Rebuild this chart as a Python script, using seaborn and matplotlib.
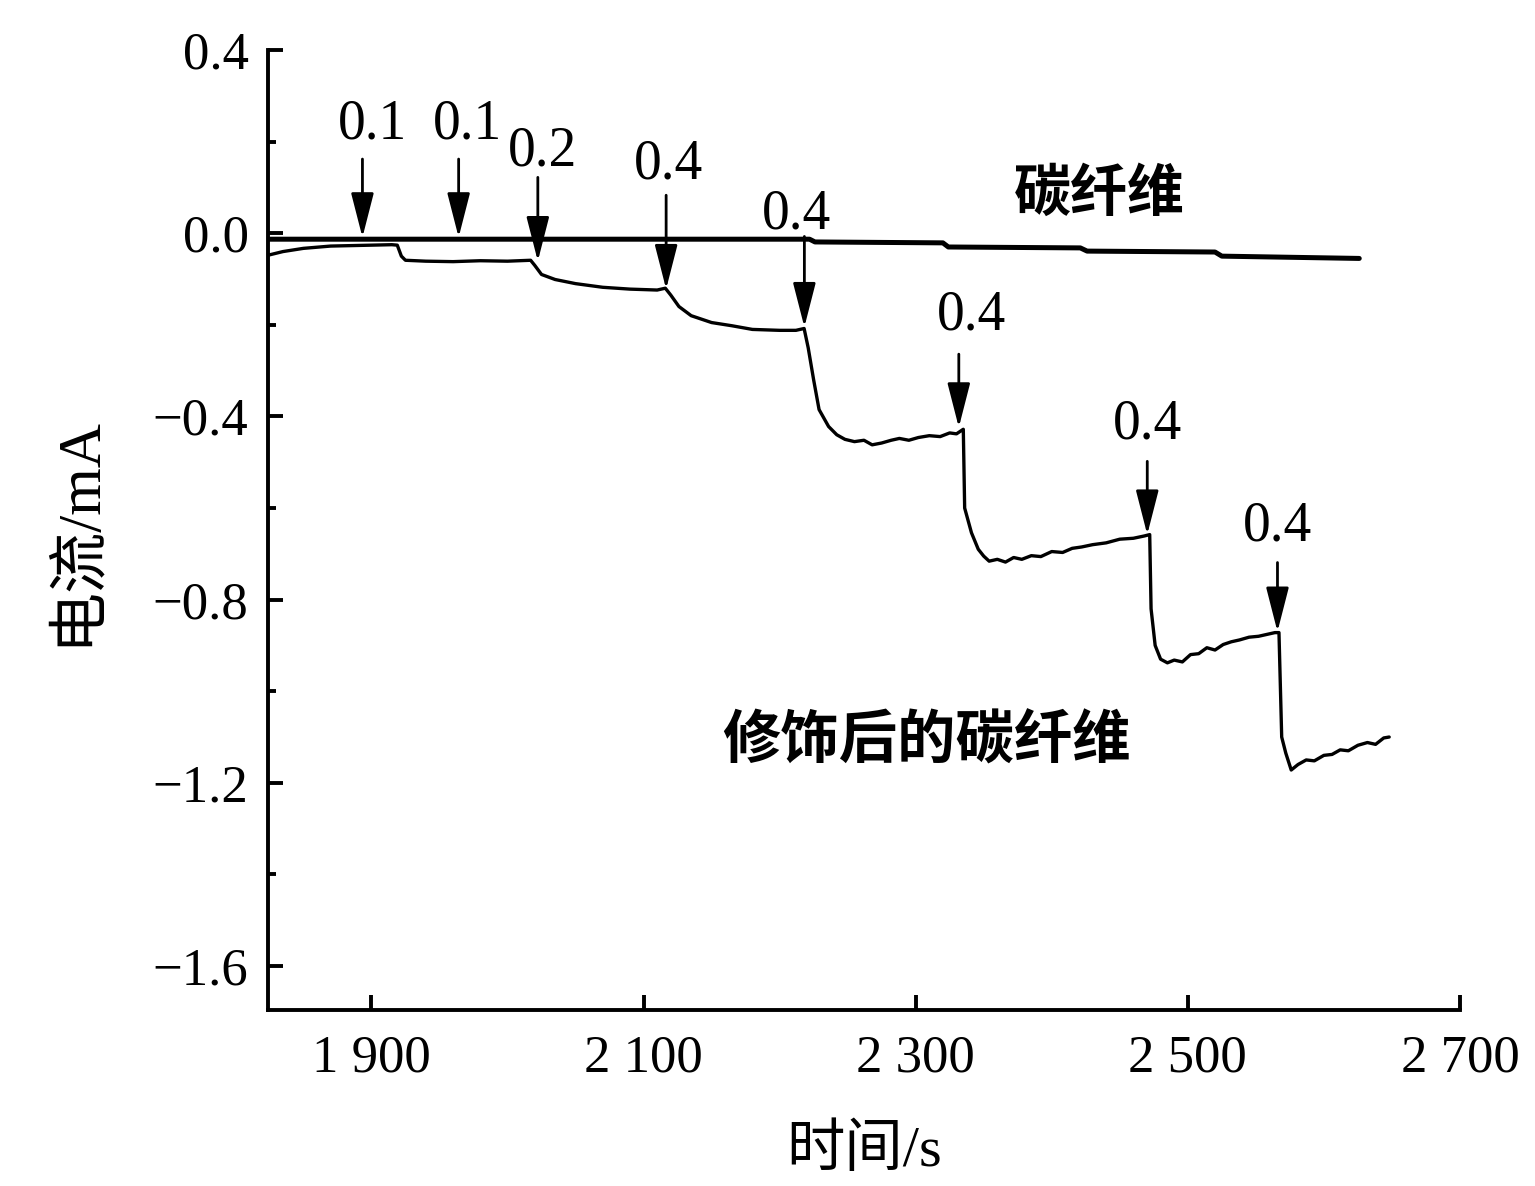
import pandas as pd
import matplotlib.pyplot as plt
import seaborn as sns
from matplotlib.ticker import MultipleLocator

# carbon fiber (bare) trace
cf_time = [1824, 2222, 2226, 2320, 2324, 2421, 2426, 2520, 2525, 2626]
cf_current = [-0.013, -0.013, -0.019, -0.021, -0.030, -0.032, -0.039, -0.041, -0.050, -0.055]

# modified carbon fiber trace
mod_time = [1824, 1835, 1850, 1870, 1885, 1900, 1915, 1919, 1922, 1925, 1940, 1960, 1980, 2000,
            2017, 2020, 2025, 2035, 2050, 2070, 2090, 2110, 2116, 2120, 2126, 2135, 2150, 2165,
            2180, 2200, 2212, 2218, 2221, 2225, 2229, 2236, 2242, 2248, 2255, 2262, 2268, 2275,
            2282, 2288, 2295, 2302, 2310, 2318, 2325, 2330, 2335, 2336, 2341, 2346, 2350, 2354,
            2360, 2366, 2372, 2378, 2385, 2392, 2400, 2408, 2415, 2422, 2430, 2440, 2450, 2460,
            2468, 2472, 2473, 2476, 2480, 2485, 2490, 2496, 2502, 2508, 2514, 2520, 2526, 2532,
            2538, 2545, 2552, 2558, 2564, 2567, 2569, 2572, 2576, 2581, 2587, 2593, 2600, 2606,
            2612, 2618, 2625, 2632, 2638, 2644, 2648]
mod_current = [-0.048, -0.040, -0.033, -0.028, -0.027, -0.026, -0.025, -0.026, -0.050, -0.059,
               -0.061, -0.062, -0.060, -0.061, -0.059, -0.070, -0.090, -0.101, -0.110, -0.118,
               -0.122, -0.124, -0.120, -0.135, -0.160, -0.180, -0.195, -0.202, -0.210, -0.212,
               -0.212, -0.208, -0.250, -0.320, -0.385, -0.422, -0.440, -0.450, -0.455, -0.452,
               -0.462, -0.458, -0.452, -0.448, -0.452, -0.446, -0.442, -0.444, -0.436, -0.438,
               -0.428, -0.600, -0.654, -0.690, -0.705, -0.716, -0.712, -0.718, -0.708, -0.712,
               -0.704, -0.706, -0.695, -0.697, -0.688, -0.685, -0.680, -0.676, -0.668, -0.666,
               -0.661, -0.658, -0.820, -0.900, -0.930, -0.938, -0.932, -0.936, -0.920, -0.918,
               -0.905, -0.910, -0.898, -0.892, -0.888, -0.882, -0.880, -0.876, -0.872, -0.872,
               -1.100, -1.135, -1.172, -1.160, -1.150, -1.152, -1.140, -1.138, -1.128, -1.130,
               -1.118, -1.112, -1.116, -1.102, -1.100]

# injection arrows
arrow_labels = ["0.1", "0.1", "0.2", "0.4", "0.4", "0.4", "0.4", "0.4"]
arrow_x = [1893.4, 1964.1, 2022.3, 2116.6, 2218.2, 2331.7, 2470.2, 2565.9]
arrow_top = [0.162, 0.162, 0.122, 0.083, -0.007, -0.264, -0.498, -0.719]
arrow_tip = [-0.009, -0.009, -0.061, -0.122, -0.205, -0.424, -0.658, -0.870]
label_x = [1900.7, 1970.7, 2026.0, 2118.0, 2212.3, 2341.3, 2470.2, 2565.9]
label_y = [0.238, 0.238, 0.179, 0.151, 0.042, -0.179, -0.417, -0.640]

x_ticks = [1900, 2100, 2300, 2500, 2700]
x_ticklabels = ["1 900", "2 100", "2 300", "2 500", "2 700"]
y_ticks = [0.4, 0.0, -0.4, -0.8, -1.2, -1.6]
y_ticklabels = ["0.4", "0.0", "\u22120.4", "\u22120.8", "\u22121.2", "\u22121.6"]

sns.set_style("ticks")
plt.rcParams['font.family'] = ['Liberation Serif', 'Noto Sans CJK SC']
plt.rcParams['text.color'] = 'black'
plt.rcParams['axes.labelcolor'] = 'black'
plt.rcParams['xtick.color'] = 'black'
plt.rcParams['ytick.color'] = 'black'
plt.rcParams['axes.edgecolor'] = 'black'

fig = plt.figure(figsize=(15.35, 11.86), dpi=100)
ax = fig.add_axes([0.1746, 0.1484, 0.7765, 0.8094])

cf = pd.DataFrame({"t": cf_time, "i": cf_current})
mod = pd.DataFrame({"t": mod_time, "i": mod_current})
sns.lineplot(data=cf, x="t", y="i", ax=ax, color="black", lw=3.6, sort=False)
sns.lineplot(data=mod, x="t", y="i", ax=ax, color="black", lw=2.4, sort=False)

for lab, x, yt, yh, lx, ly in zip(arrow_labels, arrow_x, arrow_top, arrow_tip, label_x, label_y):
    ax.annotate("", xy=(x, yh), xytext=(x, yt),
                arrowprops=dict(arrowstyle="-|>,head_length=1.25,head_width=0.32",
                                color="black", lw=2, mutation_scale=22, shrinkA=0, shrinkB=0))
    ax.text(lx, ly, lab, fontsize=40, ha="center", va="center")

ax.text(2434.8, 0.085, "碳纤维", fontsize=41, ha="center", va="center",
        family="Noto Sans CJK SC", fontweight="bold")
ax.text(2308.1, -1.110, "修饰后的碳纤维", fontsize=42, ha="center", va="center",
        family="Noto Sans CJK SC", fontweight="bold")

ax.set_xlim(1824, 2700)
ax.set_ylim(-1.696, 0.4)
ax.set_xticks(x_ticks)
ax.set_xticklabels(x_ticklabels)
ax.set_yticks(y_ticks)
ax.set_yticklabels(y_ticklabels)
ax.xaxis.set_minor_locator(MultipleLocator(200, offset=100))
ax.yaxis.set_minor_locator(MultipleLocator(0.4, offset=0.2))
ax.tick_params(which="major", direction="in", length=11, width=2.8, labelsize=38, pad=14)
ax.tick_params(which="minor", direction="in", length=6, width=2.8)
ax.tick_params(axis="x", which="major", pad=18)

ax.set_xlabel("时间/s", fontsize=42, labelpad=30)
ax.set_ylabel("电流/mA", fontsize=44, labelpad=34)

sns.despine(ax=ax)
for s in ["left", "bottom"]:
    ax.spines[s].set_linewidth(2.8)

fig.savefig("out.png", dpi=100)
